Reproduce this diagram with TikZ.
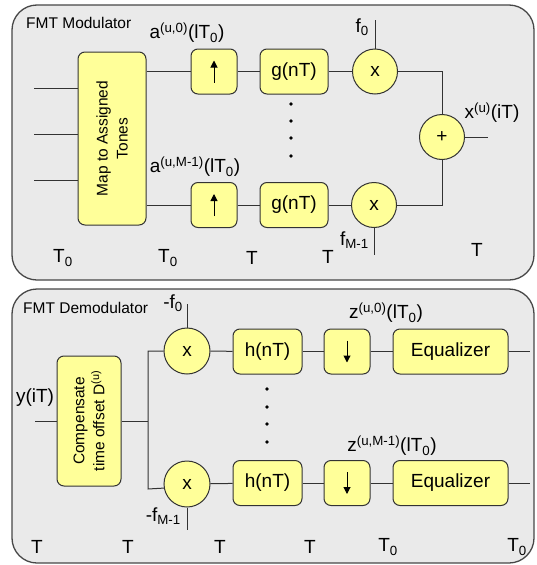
\documentclass[tikz,border=0pt]{standalone}
\usepackage{fontspec}
\setmainfont{Liberation Sans}
\usetikzlibrary{arrows.meta,positioning}
\definecolor{panelbg}{RGB}{234,234,234}
\definecolor{tone}{RGB}{255,255,153}
\definecolor{edge}{RGB}{51,51,51}

\begin{document}
\begin{tikzpicture}[x=1pt, y=-1pt,
    panel/.style={rounded corners=25pt, draw=edge!90, fill=panelbg, line width=1.3pt},
    box/.style={rounded corners=7pt, draw=edge, fill=tone, line width=1pt,
                font=\fontsize{19}{23}\selectfont, inner sep=0pt},
    boxtxt/.style={font=\fontsize{15.5}{20}\selectfont, align=center, inner sep=0pt},
    mix/.style={circle, draw=edge, fill=tone, line width=1pt, minimum size=45pt,
                inner sep=0pt, font=\fontsize{19}{23}\selectfont},
    wire/.style={line width=1pt, edge},
    lbl/.style={font=\fontsize{19}{23}\selectfont, inner sep=0pt},
    title/.style={font=\fontsize{15.5}{19}\selectfont, anchor=west, inner sep=0pt},
    rate/.style={-{Triangle[length=7pt,width=7pt]}, line width=1pt, black}]
  \useasboundingbox (0,0) rectangle (536,565);

  % panels
  \draw[panel] (12,5) rectangle (534,280);
  \draw[panel] (12,289) rectangle (534,563);

  % modulator
  \node[title] (modt) at (26,23) {FMT Modulator};
  \node[box, minimum width=68pt, minimum height=173pt] (map) at (112,138.5) {};
  \node[boxtxt, rotate=90] (maptxt) at (map) {Map to Assigned\\Tones};

  \coordinate (in0) at (34,88);
  \coordinate (in1) at (34,134);
  \coordinate (in2) at (34,180);
  \draw[wire] (in0) -- (in0 -| map.west);
  \draw[wire] (in1) -- (in1 -| map.west);
  \draw[wire] (in2) -- (in2 -| map.west);

  \node[box, minimum width=46pt, minimum height=45pt] (up0) at (214,71.5) {};
  \node[box, minimum width=46pt, minimum height=45pt] (up1) at (214,205) {};
  \draw[rate] ([yshift=-11pt]up0.center) -- ([yshift=11pt]up0.center);
  \draw[rate] ([yshift=-11pt]up1.center) -- ([yshift=11pt]up1.center);

  \node[box, minimum width=68pt, minimum height=45pt] (g0) at (294,71.5) {g(nT)};
  \node[box, minimum width=68pt, minimum height=45pt] (g1) at (294,205) {g(nT)};

  \node[mix] (m0) at (375,71.5) {x};
  \node[mix] (m1) at (374,205) {x};
  \node[mix] (add) at (442,137) {+};

  \draw[wire] (map.east |- up0) -- (up0);
  \draw[wire] (map.east |- up1) -- (up1);
  \draw[wire] (up0) -- (g0);
  \draw[wire] (up1) -- (g1);
  \draw[wire] (g0) -- (m0);
  \draw[wire] (g1) -- (m1);
  \draw[wire] (m0.east) -| (add.north);
  \draw[wire] (m1.east) -| (add.south);

  \coordinate (f0) at (375,20);
  \coordinate (fM) at (374,255);
  \coordinate (xout) at (488,137);
  \draw[wire] (m0.north) -- (f0);
  \draw[wire] (m1.south) -- (fM);
  \draw[wire] (add.east) -- (xout);

  \foreach \y in {104,121,138,156}
    \fill (291,\y) circle (1.8pt);

  \node[lbl] (a0) at (187,33) {a\textsuperscript{(u,0)}(lT\textsubscript{0})};
  \node[lbl] (a1) at (195,167) {a\textsuperscript{(u,M-1)}(lT\textsubscript{0})};
  \node[lbl, anchor=east] (f0l) at (369,27) {f\textsubscript{0}};
  \node[lbl, anchor=east] (fMl) at (369,240) {f\textsubscript{M-1}};
  \node[lbl] (xl) at (492,113) {x\textsuperscript{(u)}(iT)};

  % sample rates
  \node[lbl] (r0) at (63,258) {T\textsubscript{0}};
  \node[lbl] (r1) at (168,258) {T\textsubscript{0}};
  \node[lbl] (r2) at (252,258) {T};
  \node[lbl] (r3) at (328,257) {T};
  \node[lbl] (r4) at (477,250) {T};

  % demodulator
  \node[title] (demt) at (23,308) {FMT Demodulator};
  \node[box, minimum width=64pt, minimum height=130pt] (comp) at (89,421) {};
  \node[boxtxt, rotate=90] (comptxt) at (comp) {Compensate\\time offset D\textsuperscript{(u)}};

  \coordinate (yin) at (35,421);
  \coordinate (split) at (148,421);
  \coordinate (stop) at (148,351);
  \coordinate (sbot) at (148,489);
  \draw[wire] (yin) -- (comp);
  \draw[wire] (comp) -- (split);

  \node[mix, minimum size=46pt] (m2) at (187,351) {x};
  \node[mix, minimum size=46pt] (m3) at (187,484) {x};
  \draw[wire] (m2.west) -- (stop) -- (sbot) -- (m3.190);

  \coordinate (nf0) at (187,304);
  \coordinate (nfM) at (187,530);
  \draw[wire] (m2.north) -- (nf0);
  \draw[wire] (m3.south) -- (nfM);

  \node[box, minimum width=69pt, minimum height=45pt] (h0) at (267.5,351.5) {h(nT)};
  \node[box, minimum width=69pt, minimum height=45pt] (h1) at (267.5,483) {h(nT)};
  \node[box, minimum width=46pt, minimum height=45pt] (d0) at (347,351.5) {};
  \node[box, minimum width=46pt, minimum height=45pt] (d1) at (347,483) {};
  \draw[rate] ([yshift=11pt]d0.center) -- ([yshift=-11pt]d0.center);
  \draw[rate] ([yshift=11pt]d1.center) -- ([yshift=-11pt]d1.center);
  \node[box, minimum width=115pt, minimum height=45pt] (e0) at (450.5,351.5) {Equalizer};
  \node[box, minimum width=115pt, minimum height=45pt] (e1) at (450.5,483) {Equalizer};

  \coordinate (z0out) at (530,351.5);
  \coordinate (z1out) at (530,483);
  \draw[wire] (m2) -- (h0);
  \draw[wire] (m3) -- (h1);
  \draw[wire] (h0) -- (d0);
  \draw[wire] (h1) -- (d1);
  \draw[wire] (d0) -- (e0);
  \draw[wire] (d1) -- (e1);
  \draw[wire] (e0) -- (z0out);
  \draw[wire] (e1) -- (z1out);

  \foreach \y in {389,407,424,442}
    \fill (267,\y) circle (1.8pt);

  \node[lbl] (yl) at (35,398) {y(iT)};
  \node[lbl, anchor=east] (nf0l) at (183,303) {-f\textsubscript{0}};
  \node[lbl, anchor=east] (nfMl) at (181,516) {-f\textsubscript{M-1}};
  \node[lbl] (z0) at (386,313) {z\textsuperscript{(u,0)}(lT\textsubscript{0})};
  \node[lbl] (z1) at (392,446) {z\textsuperscript{(u,M-1)}(lT\textsubscript{0})};

  % sample rates
  \node[lbl] (r5) at (37,547) {T};
  \node[lbl] (r6) at (128,547) {T};
  \node[lbl] (r7) at (220,547) {T};
  \node[lbl] (r8) at (310,547) {T};
  \node[lbl] (r9) at (388,547) {T\textsubscript{0}};
  \node[lbl] (r10) at (517,547) {T\textsubscript{0}};
\end{tikzpicture}
\end{document}
